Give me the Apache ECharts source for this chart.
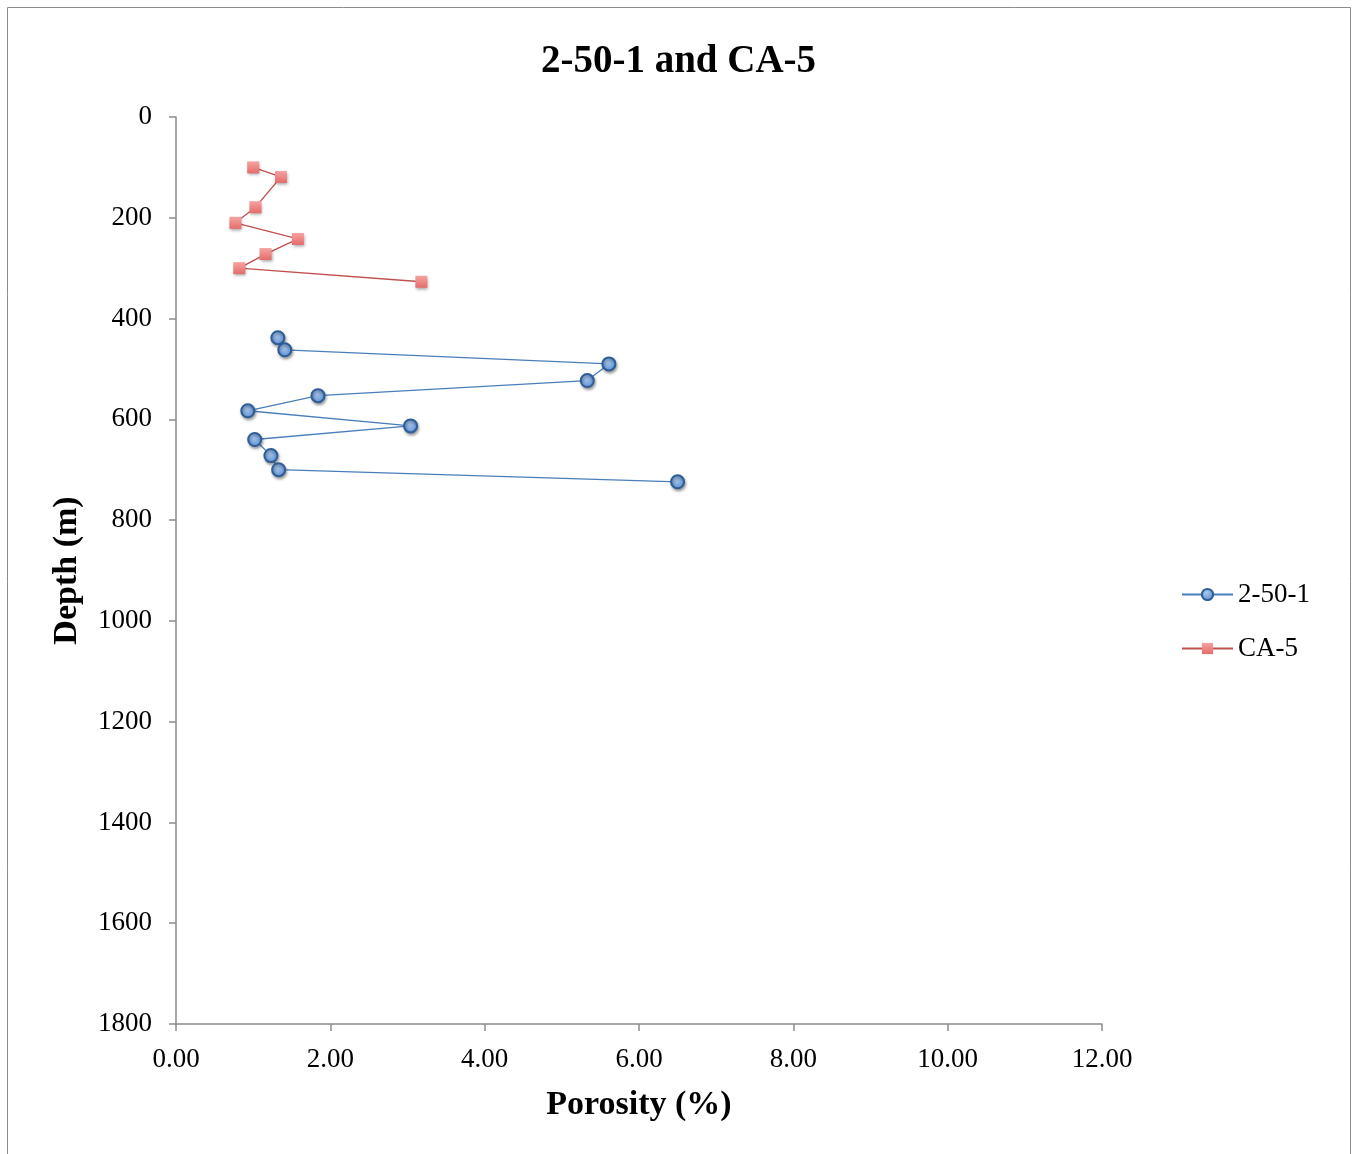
<!DOCTYPE html>
<html>
<head>
<meta charset="utf-8">
<script src="https://cdn.jsdelivr.net/npm/echarts@6/dist/echarts.min.js"></script>
<style>
  html, body { margin: 0; padding: 0; background: #fff; }
  #chart { width: 1357px; height: 1154px; }
</style>
</head>
<body>
<div id="chart"></div>
<script>
// Porosity (%) vs depth (m) for two wells
const well1Name = '2-50-1';
const well1Porosity = [1.32, 1.41, 5.61, 5.33, 1.84, 0.93, 3.04, 1.02, 1.23, 1.33, 6.50];
const well1Depth = [438, 462, 490, 523, 553, 583, 613, 640, 672, 700, 724];

const well2Name = 'CA-5';
const well2Porosity = [1.00, 1.36, 1.03, 0.77, 1.58, 1.16, 0.82, 3.18];
const well2Depth = [100, 119, 179, 210, 242, 272, 300, 327];

const xTicks = { min: 0, max: 12, interval: 2 };
const yTicks = { min: 0, max: 1800, interval: 200 };

const pairs = (xs, ys) => xs.map((x, i) => [x, ys[i]]);
const FONT = 'Liberation Serif';

const chart = echarts.init(document.getElementById('chart'), null, { renderer: 'canvas' });
chart.setOption({
  backgroundColor: '#fff',
  animation: false,
  textStyle: { fontFamily: FONT, color: '#000' },
  title: {
    text: '2-50-1 and CA-5',
    left: 'center',
    top: 37,
    textStyle: { fontFamily: FONT, fontSize: 39, fontWeight: 'bold', color: '#000' }
  },
  graphic: [{
    type: 'rect',
    shape: { x: 7.5, y: 7.5, width: 1343, height: 1160 },
    style: { fill: 'none', stroke: '#8c8c8c', lineWidth: 1 },
    silent: true
  }],
  grid: { left: 176, right: 255, top: 117, bottom: 130, containLabel: false },
  legend: {
    orient: 'vertical',
    left: 1176,
    top: 576,
    itemWidth: 51,
    itemHeight: 14,
    itemGap: 27,
    textStyle: { fontFamily: FONT, fontSize: 27, color: '#000' },
    data: [well1Name, well2Name]
  },
  xAxis: {
    type: 'value',
    min: xTicks.min, max: xTicks.max, interval: xTicks.interval,
    name: 'Porosity (%)',
    nameLocation: 'middle',
    nameGap: 64,
    nameTextStyle: { fontFamily: FONT, fontSize: 34, fontWeight: 'bold', color: '#000' },
    axisLine: { show: true, onZero: false, lineStyle: { color: '#8c8c8c', width: 1.5 } },
    axisTick: { show: true, inside: false, length: 7, lineStyle: { color: '#8c8c8c', width: 1.5 } },
    axisLabel: { fontFamily: FONT, fontSize: 27, color: '#000', margin: 22, formatter: v => v.toFixed(2) },
    splitLine: { show: false }
  },
  yAxis: {
    type: 'value',
    inverse: true,
    min: yTicks.min, max: yTicks.max, interval: yTicks.interval,
    name: 'Depth (m)',
    nameLocation: 'middle',
    nameGap: 92,
    nameRotate: 90,
    nameTextStyle: { fontFamily: FONT, fontSize: 34, fontWeight: 'bold', color: '#000' },
    axisLine: { show: true, onZero: false, lineStyle: { color: '#8c8c8c', width: 1.5 } },
    axisTick: { show: true, inside: false, length: 7, lineStyle: { color: '#8c8c8c', width: 1.5 } },
    axisLabel: { fontFamily: FONT, fontSize: 27, color: '#000', margin: 24, formatter: v => String(v) },
    splitLine: { show: false }
  },
  series: [
    {
      name: well1Name,
      type: 'line',
      data: pairs(well1Porosity, well1Depth),
      symbol: 'circle',
      symbolSize: 13,
      lineStyle: { color: '#4a7ebb', width: 1.3 },
      itemStyle: {
        color: new echarts.graphic.RadialGradient(0.4, 0.35, 0.7, [
          { offset: 0, color: '#a8c8f0' },
          { offset: 1, color: '#5b8fd2' }
        ]),
        borderColor: '#2c5d96',
        borderWidth: 2,
        shadowColor: 'rgba(0,0,0,0.35)',
        shadowBlur: 3,
        shadowOffsetX: 1,
        shadowOffsetY: 2
      },
      z: 3
    },
    {
      name: well2Name,
      type: 'line',
      data: pairs(well2Porosity, well2Depth),
      symbol: 'rect',
      symbolSize: 12,
      lineStyle: { color: '#c0504d', width: 1.3 },
      itemStyle: {
        color: new echarts.graphic.LinearGradient(0, 0, 0, 1, [
          { offset: 0, color: '#f6a3a1' },
          { offset: 1, color: '#e46c6a' }
        ]),
        borderWidth: 0,
        shadowColor: 'rgba(0,0,0,0.35)',
        shadowBlur: 3,
        shadowOffsetX: 1,
        shadowOffsetY: 2
      },
      z: 3
    }
  ]
});
</script>
</body>
</html>
